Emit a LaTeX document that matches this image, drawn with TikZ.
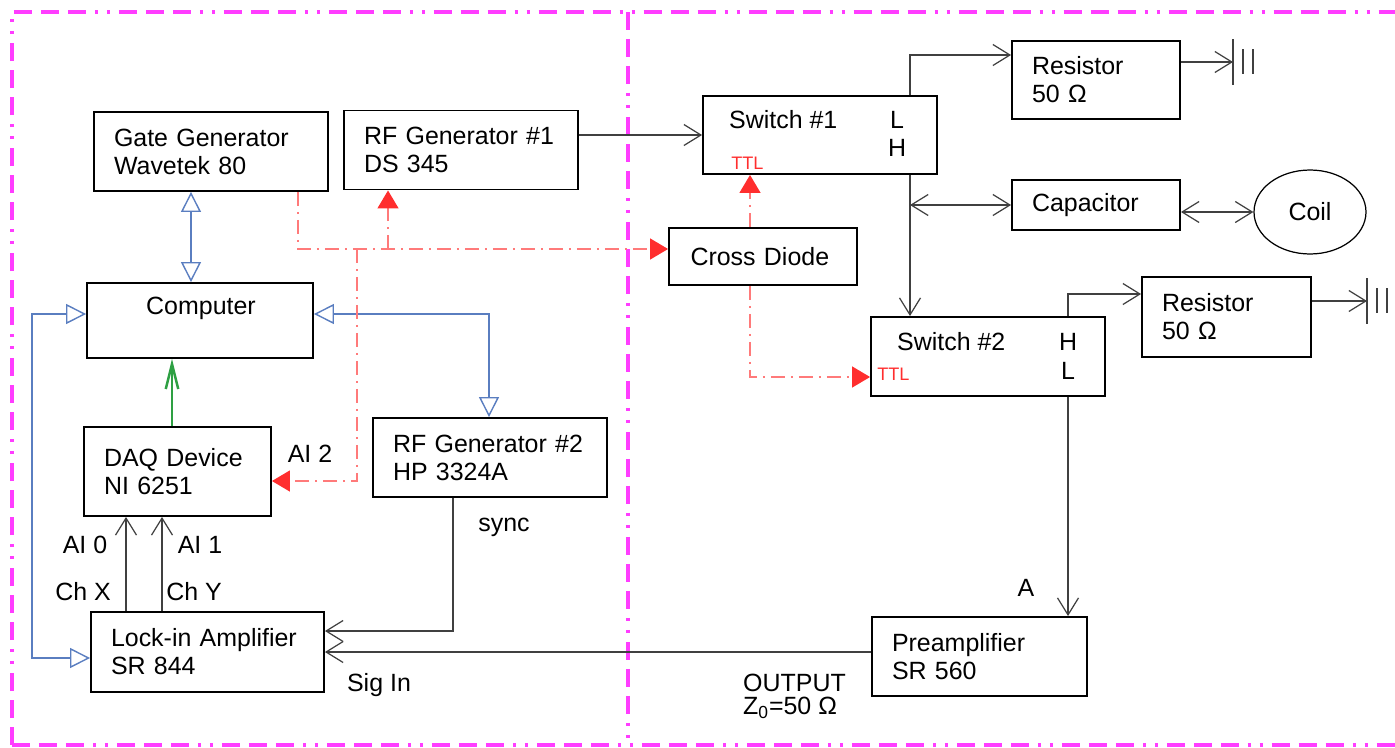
\documentclass[tikz,border=0pt]{standalone}
\usepackage{fontspec}
\setmainfont{Liberation Sans}
\usetikzlibrary{arrows.meta, shapes.geometric}
\definecolor{zonemag}{HTML}{FF3DFF}
\definecolor{ctlblue}{HTML}{5A7EC0}
\definecolor{ttlred}{HTML}{FF2E2E}
\definecolor{ttlpink}{HTML}{FF7A7A}
\definecolor{daqgreen}{HTML}{2EA043}

\begin{document}
\begin{tikzpicture}[x=0.02cm, y=-0.02cm, font=\fontsize{14.2}{16}\selectfont,
    unit/.style={draw, line width=1.1pt, inner xsep=0.4cm, inner ysep=0pt, align=left, minimum height=1.58cm},
    sig/.style={draw=black!75, line width=0.7pt, -{Straight Barb[length=0.34cm,width=0.42cm]}},
    duplex/.style={sig, {Straight Barb[length=0.34cm,width=0.42cm]}-{Straight Barb[length=0.34cm,width=0.42cm]}},
    ctl/.style={draw=ctlblue, line width=0.8pt, {Triangle[open,length=0.4cm,width=0.4cm]}-{Triangle[open,length=0.4cm,width=0.4cm]}},
    ttl/.style={draw=ttlpink, line width=0.8pt, dash pattern=on 0.28cm off 0.12cm on 0.04cm off 0.12cm, -{Triangle[length=0.36cm,width=0.42cm,color=ttlred]}},
    zone/.style={draw=zonemag, line width=2pt, dash pattern=on 0.36cm off 0.18cm on 0.36cm off 0.18cm on 0.36cm off 0.18cm on 0.06cm off 0.18cm on 0.06cm off 0.18cm},
    ttltext/.style={text=ttlred, inner sep=0pt, font=\fontsize{10.3}{12}\selectfont}]
  \useasboundingbox (0,0) rectangle (1395,747);

  % dash-dot frame of the two parts
  \draw[zone] (12,745) -- (12,12) -- (1395,12);
  \draw[zone] (12,745) -- (1395,745);
  \draw[zone] (628,12) -- (628,745);

  % left part
  \node[unit, text width=3.88cm] (gate) at (211,151.5) {Gate Generator\\Wavetek 80};
  \node[unit, text width=3.88cm] (rfa) at (461,150) {RF Generator \#1\\DS 345};
  \node[unit, minimum width=4.52cm, minimum height=1.5cm] (comp) at (200,320.5) {};
  \node (comptext) at (201,308) {Computer};
  \node[unit, text width=2.94cm, minimum height=1.78cm] (daq) at (177.5,471.5) {DAQ Device\\NI 6251};
  \node[unit, text width=3.88cm] (rfb) at (490,457.5) {RF Generator \#2\\HP 3324A};
  \node[unit, text width=3.86cm, minimum height=1.6cm] (lockin) at (207.5,652) {Lock-in Amplifier\\SR 844};

  % right part
  \node[unit, minimum width=4.68cm, minimum height=1.56cm] (sw1) at (820,135) {};
  \node[anchor=west] (sw1text) at (723,120) {Switch \#1};
  \node (sw1l) at (897,120) {L};
  \node (sw1h) at (897,148) {H};
  \node[ttltext, anchor=west] (sw1ttl) at (731,163) {TTL};
  \node[unit, text width=2.56cm, minimum height=1.56cm] (resa) at (1096,80) {Resistor\\50 Ω};
  \node[unit, text width=2.56cm, minimum height=1cm] (cap) at (1096,205) {Capacitor};
  \node[ellipse, draw, line width=0.7pt, minimum width=2.24cm, minimum height=1.68cm] (coil) at (1310,212) {Coil};
  \node[unit, text width=2.9cm, inner xsep=0.43cm, minimum height=1.14cm] (diode) at (763,256.5) {Cross Diode};
  \node[unit, minimum width=4.68cm] (sw2) at (988,356.5) {};
  \node[anchor=west] (sw2text) at (891,342) {Switch \#2};
  \node (sw2h) at (1068,342) {H};
  \node (sw2l) at (1068,371) {L};
  \node[ttltext, anchor=west] (sw2ttl) at (877,374) {TTL};
  \node[unit, text width=2.58cm, minimum height=1.6cm] (resb) at (1226.5,317) {Resistor\\50 Ω};
  \node[unit, text width=3.5cm] (pre) at (979.5,656.5) {Preamplifier\\SR 560};

  % bends and grounds
  \coordinate (k1) at (910,55);
  \coordinate (k2) at (1068,294);
  \coordinate (k3) at (453,631);
  \coordinate (k4) at (489,314);
  \coordinate (k5) at (32,314);
  \coordinate (k6) at (32,658);
  \coordinate (r1) at (298,249);
  \coordinate (r2) at (357,481);
  \coordinate (r3) at (750,377);
  \coordinate (gnda) at (1233,62);
  \coordinate (gndb) at (1367,301);

  % signal path
  \draw[sig] (rfa.east |- sw1.west) -- (sw1.west);
  \draw[sig] (sw1.north -| k1) -- (k1) -- (k1 -| resa.west);
  \draw[sig] (sw1.south -| k1) -- (sw2.north -| k1);
  \draw[duplex] (k1 |- cap.west) -- (cap.west);
  \draw[duplex] (cap.east |- coil.west) -- (coil.west);
  \draw[sig] (resa.east |- gnda) -- (gnda);
  \draw[sig] (sw2.north -| k2) -- (k2) -- (k2 -| resb.west);
  \draw[sig] (resb.east |- gndb) -- (gndb);
  \draw[sig] (sw2.south -| k2) -- (pre.north -| k2);
  \draw[sig] (pre.west |- lockin.east) -- (lockin.east);
  \draw[sig] (rfb.south -| k3) -- (k3) -- (k3 -| lockin.east);
  \foreach \x in {126,162}
    \draw[sig] (lockin.north -| \x,0) -- (daq.south -| \x,0);
  \foreach \g in {gnda,gndb}
    \draw[black!75, line width=1pt] (\g) ++(0,-23) -- ++(0,46) ++(10,-36) -- ++(0,25) ++(10,-25) -- ++(0,25);

  % computer links
  \draw[daqgreen, line width=0.8pt, -{Straight Barb[length=0.5cm,width=0.25cm,line width=1.4pt]}] (daq.north -| 172,0) -- (comp.south -| 172,0);
  \draw[ctl] (gate.south -| 191,0) -- (comp.north -| 191,0);
  \draw[ctl] (k4 -| comp.east) -- (k4) -- (rfb.north -| k4);
  \draw[ctl] (k6 -| lockin.west) -- (k6) -- (k5) -- (k5 -| comp.west);

  % TTL gate lines
  \draw[ttl] (gate.south -| r1) -- (r1) -- (r1 -| diode.west);
  \draw[ttl] (r1 -| 388,0) -- (rfa.south -| 388,0);
  \draw[ttl] (r1 -| r2) -- (r2) -- (r2 -| daq.east);
  \draw[ttl] (diode.north -| r3) -- (sw1.south -| r3);
  \draw[ttl] (diode.south -| r3) -- (r3) -- (r3 -| sw2.west);

  % labels
  \node (ai0) at (85,545) {AI 0};
  \node (ai1) at (200,545) {AI 1};
  \node (chx) at (83,592) {Ch X};
  \node (chy) at (194,592) {Ch Y};
  \node (ai2) at (310,454) {AI 2};
  \node (sync) at (504,527) {sync};
  \node (sigin) at (379,685) {Sig In};
  \node (alab) at (1026,588) {A};
  \node[anchor=west] (output) at (737,683) {OUTPUT};
  \node[anchor=west] (zout) at (737,708) {Z\textsubscript{0}=50 Ω};
\end{tikzpicture}
\end{document}
